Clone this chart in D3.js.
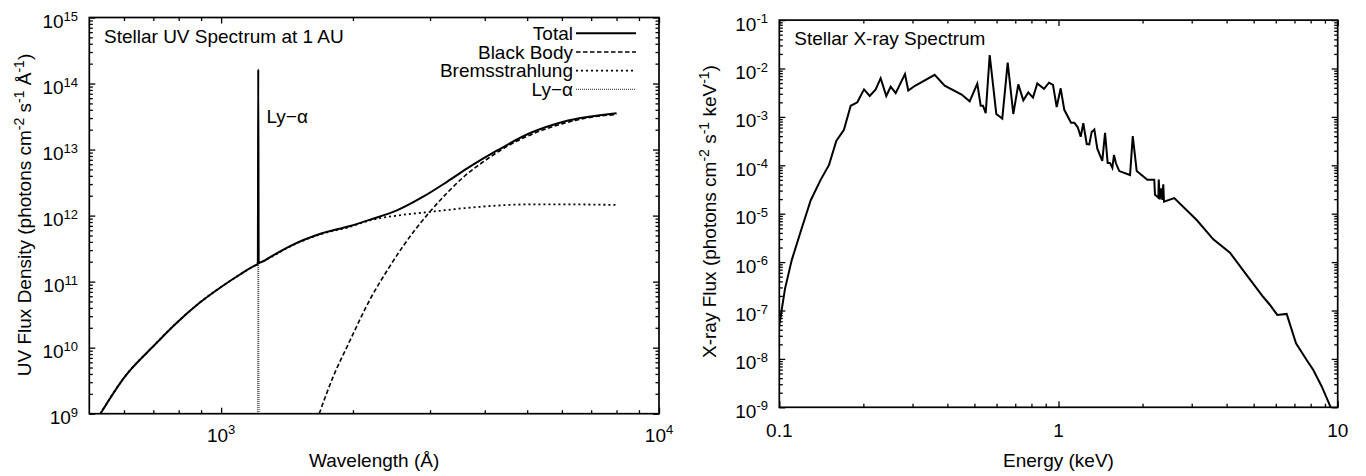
<!DOCTYPE html>
<html><head><meta charset="utf-8">
<script src="https://cdn.jsdelivr.net/npm/d3@7"></script>
<style>
body{margin:0;background:#fff}
text{font-family:"Liberation Sans",Arial,Helvetica,sans-serif;fill:#000}
</style>
</head><body>
<svg id="c" width="1366" height="476"></svg>
<script>
// ---------- UV panel data ----------
const uvTotalWavelength = [530, 600, 700, 790, 890, 1000, 1100, 1200, 1209, 1213, 1215.7, 1218.5, 1223, 1300, 1430, 1700, 1960, 2190, 2520, 2900, 3280, 3700, 4260, 5080, 6050, 8000];
const uvTotalFlux = [1.0e9, 3.5e9, 1.05e10, 2.35e10, 4.7e10, 8.3e10, 1.26e11, 1.78e11, 1.82e11, 2.0e11, 1.64e14, 1.95e11, 1.95e11, 2.4e11, 3.4e11, 5.4e11, 6.9e11, 8.7e11, 1.2e12, 1.95e12, 3.25e12, 5.5e12, 9.6e12, 1.78e13, 2.64e13, 3.55e13];
const uvBlackBodyWavelength = [1675, 1800, 1960, 2200, 2400, 2600, 2800, 3000, 3300, 3600, 4000, 4500, 5000, 6000, 7000, 8000];
const uvBlackBodyFlux = [1.0e9, 3.55e9, 1.2e10, 5.75e10, 1.51e11, 3.4e11, 6.6e11, 1.15e12, 2.29e12, 3.98e12, 6.76e12, 1.12e13, 1.59e13, 2.45e13, 3.09e13, 3.39e13];
const uvBremsWavelength = [530, 600, 700, 790, 890, 1000, 1100, 1200, 1300, 1430, 1700, 1960, 2190, 2520, 3000, 3900, 5080, 6050, 8000];
const uvBremsFlux = [1.0e9, 3.5e9, 1.05e10, 2.35e10, 4.7e10, 8.3e10, 1.26e11, 1.78e11, 2.35e11, 3.35e11, 5.3e11, 6.7e11, 8.5e11, 1.0e12, 1.14e12, 1.36e12, 1.48e12, 1.48e12, 1.45e12];
const uvLyaWavelength = [1209, 1213, 1215.7, 1218.5, 1223];
const uvLyaFlux = [1e8, 1e10, 1.64e14, 1e10, 1e8];
const uvXTicks = [1e3, 1e4];
const uvYTicks = [1e9, 1e10, 1e11, 1e12, 1e13, 1e14, 1e15];
const uvLegend = ["Total", "Black Body", "Bremsstrahlung", "Ly\u2212\u03b1"];

// ---------- X-ray panel data ----------
const xrayEnergy = [0.1, 0.1048, 0.1108, 0.1193, 0.1296, 0.1406, 0.1507, 0.16, 0.1704, 0.1802, 0.1903, 0.2011, 0.2108, 0.2214, 0.2307, 0.2416, 0.2506, 0.2611, 0.2819, 0.2897, 0.3062, 0.3602, 0.3911, 0.4498, 0.4807, 0.5119, 0.5264, 0.5365, 0.5487, 0.567, 0.5987, 0.629, 0.6577, 0.6888, 0.7178, 0.7482, 0.7793, 0.8101, 0.8396, 0.8871, 0.9246, 0.9556, 0.9853, 1.018, 1.049, 1.109, 1.139, 1.172, 1.201, 1.227, 1.262, 1.289, 1.315, 1.344, 1.377, 1.435, 1.468, 1.5, 1.529, 1.559, 1.58, 1.606, 1.651, 1.804, 1.845, 1.906, 2.08, 2.203, 2.216, 2.278, 2.286, 2.304, 2.334, 2.354, 2.373, 2.387, 2.598, 3.126, 3.585, 4.114, 4.722, 5.414, 5.722, 6.075, 6.565, 7.09, 7.743, 8.178, 8.765, 9.44];
const xrayFlux = [5.0e-8, 2.8e-7, 1.1e-6, 4.3e-6, 1.9e-5, 5.0e-5, 1.02e-4, 3.2e-4, 5.4e-4, 1.7e-3, 2.0e-3, 3.7e-3, 2.7e-3, 3.7e-3, 6.3e-3, 2.7e-3, 4.2e-3, 3.1e-3, 7.7e-3, 3.5e-3, 4.4e-3, 7.4e-3, 4.4e-3, 2.9e-3, 2.1e-3, 4.9e-3, 1.7e-3, 1.7e-3, 1.2e-3, 1.9e-2, 1.15e-3, 9.2e-4, 1.32e-2, 1.15e-3, 4.7e-3, 2.2e-3, 3.2e-3, 2.5e-3, 4.9e-3, 3.8e-3, 5.1e-3, 4.6e-3, 1.6e-3, 3.9e-3, 1.4e-3, 7.6e-4, 7.6e-4, 6.1e-4, 3.9e-4, 7.4e-4, 2.75e-4, 2.7e-4, 4.9e-4, 5.5e-4, 2.2e-4, 1.24e-4, 4.7e-4, 1.12e-4, 1.12e-4, 8.9e-5, 1.63e-4, 1.1e-4, 7.6e-5, 6.3e-5, 4.0e-4, 7.6e-5, 5.0e-5, 5.0e-5, 2.45e-5, 2.14e-5, 5.1e-5, 1.98e-5, 3.35e-5, 1.92e-5, 4.05e-5, 1.77e-5, 2.1e-5, 7.4e-6, 2.95e-6, 1.56e-6, 5.4e-7, 1.9e-7, 1.3e-7, 8.1e-8, 8.5e-8, 2.1e-8, 9.5e-9, 5.9e-9, 2.7e-9, 1.0e-9];
const xrayXTicks = [0.1, 1, 10];
const xrayXTickLabels = ["0.1", "1", "10"];
const xrayYTicks = [1e-9, 1e-8, 1e-7, 1e-6, 1e-5, 1e-4, 1e-3, 1e-2, 1e-1];

const svg = d3.select("#c");
const MAIN = 19, SUP = 14, TICKSUP = 13;

function minorTicks(lo, hi) {
  const out = [];
  for (let e = Math.floor(Math.log10(lo)); e < Math.ceil(Math.log10(hi)); e++) {
    for (let m = 2; m <= 9; m++) {
      const v = m * Math.pow(10, e);
      if (v > lo * 1.0001 && v < hi * 0.9999) out.push(v);
    }
  }
  return out;
}

function powLabel(sel, exp) {
  sel.append("tspan").text("10");
  sel.append("tspan").attr("dy", -7.5).attr("font-size", TICKSUP).text(exp);
}

function drawFrame(g, x, y, majorX, majorY) {
  const [x0, x1] = x.range(), [y0, y1] = y.range();
  const W = x1 - x0, H = y0 - y1;
  const mk = (axis, tr) => g.append("g").attr("transform", tr).call(axis)
    .call(s => { s.select(".domain").remove(); s.selectAll("text").remove(); s.selectAll("line").attr("stroke", "#000").attr("stroke-width", 1.3); });
  const mx = minorTicks(x.domain()[0], x.domain()[1]);
  const my = minorTicks(y.domain()[0], y.domain()[1]);
  mk(d3.axisBottom(x).tickValues(majorX).tickSize(-6), `translate(0,${y0})`);
  mk(d3.axisBottom(x).tickValues(mx).tickSize(-3.5), `translate(0,${y0})`);
  mk(d3.axisTop(x).tickValues(majorX).tickSize(-6), `translate(0,${y1})`);
  mk(d3.axisTop(x).tickValues(mx).tickSize(-3.5), `translate(0,${y1})`);
  mk(d3.axisLeft(y).tickValues(majorY).tickSize(-6), `translate(${x0},0)`);
  mk(d3.axisLeft(y).tickValues(my).tickSize(-3.5), `translate(${x0},0)`);
  mk(d3.axisRight(y).tickValues(majorY).tickSize(-6), `translate(${x1},0)`);
  mk(d3.axisRight(y).tickValues(my).tickSize(-3.5), `translate(${x1},0)`);
  g.append("rect").attr("x", x0).attr("y", y1).attr("width", W).attr("height", H)
    .attr("fill", "none").attr("stroke", "#000").attr("stroke-width", 1.7);
}

function lineOf(g, x, y, xs, ys, clipId, style, curve) {
  const pts = xs.map((v, i) => [v, ys[i]]);
  const l = d3.line().x(d => x(d[0])).y(d => y(d[1])).curve(curve || d3.curveLinear);
  g.append("path").datum(pts).attr("d", l).attr("fill", "none")
    .attr("clip-path", `url(#${clipId})`)
    .attr("stroke", style.color || "#000").attr("stroke-width", style.width || 2)
    .attr("stroke-dasharray", style.dash || null).attr("stroke-linejoin", "miter");
}

function clip(id, x, y) {
  const [x0, x1] = x.range(), [y0, y1] = y.range();
  svg.append("clipPath").attr("id", id).append("rect")
    .attr("x", x0).attr("y", y1).attr("width", x1 - x0).attr("height", y0 - y1);
}

// ================= UV panel =================
{
  const x = d3.scaleLog().domain([500, 10000]).range([89.3, 659]);
  const y = d3.scaleLog().domain([1e9, 1e15]).range([413.7, 17.5]);
  const g = svg.append("g");
  clip("clipUV", x, y);

  const styles = [
    {dash: null, width: 2},
    {dash: "4.5,2.5", width: 1.6},
    {dash: "2,3", width: 1.8},
    {dash: "1,1", color: "#555", width: 1.3}
  ];
  lineOf(g, x, y, uvLyaWavelength, uvLyaFlux, "clipUV", styles[3]);
  lineOf(g, x, y, uvBremsWavelength, uvBremsFlux, "clipUV", styles[2], d3.curveMonotoneX);
  lineOf(g, x, y, uvBlackBodyWavelength, uvBlackBodyFlux, "clipUV", styles[1], d3.curveMonotoneX);
  lineOf(g, x, y, uvTotalWavelength, uvTotalFlux, "clipUV", styles[0], d3.curveMonotoneX);

  drawFrame(g, x, y, uvXTicks, uvYTicks);

  uvYTicks.forEach(v => {
    const t = g.append("text").attr("x", 78).attr("y", y(v) + 10.5).attr("text-anchor", "end").attr("font-size", MAIN);
    powLabel(t, Math.round(Math.log10(v)));
  });
  uvXTicks.forEach(v => {
    const t = g.append("text").attr("x", x(v)).attr("y", 441.7).attr("text-anchor", "middle").attr("font-size", MAIN);
    powLabel(t, Math.round(Math.log10(v)));
  });

  uvLegend.forEach((name, i) => {
    const ly = 33.3 + i * 18.7;
    g.append("text").attr("x", 573).attr("y", ly + 6.5).attr("text-anchor", "end").attr("font-size", MAIN).text(name);
    g.append("line").attr("x1", 576).attr("x2", 636).attr("y1", ly).attr("y2", ly)
      .attr("stroke", styles[i].color || "#000").attr("stroke-width", styles[i].width || 2)
      .attr("stroke-dasharray", styles[i].dash);
  });

  g.append("text").attr("x", 104).attr("y", 43.3).attr("font-size", MAIN).text("Stellar UV Spectrum at 1 AU");
  g.append("text").attr("x", 266.5).attr("y", 123.3).attr("font-size", MAIN).text("Ly\u2212\u03b1");

  g.append("text").attr("x", (89.3 + 659) / 2).attr("y", 466.7).attr("text-anchor", "middle").attr("font-size", MAIN).text("Wavelength (\u00c5)");

  const yt = g.append("text").attr("transform", "translate(31,215) rotate(-90)").attr("text-anchor", "middle").attr("font-size", MAIN);
  yt.append("tspan").text("UV Flux Density (photons cm");
  yt.append("tspan").attr("dy", -7.5).attr("font-size", SUP).text("-2");
  yt.append("tspan").attr("dy", 7.5).text(" s");
  yt.append("tspan").attr("dy", -7.5).attr("font-size", SUP).text("-1");
  yt.append("tspan").attr("dy", 7.5).text(" \u00c5");
  yt.append("tspan").attr("dy", -7.5).attr("font-size", SUP).text("-1");
  yt.append("tspan").attr("dy", 7.5).text(")");
}

// ================= X-ray panel =================
{
  const x = d3.scaleLog().domain([0.1, 10]).range([779.3, 1337.7]);
  const y = d3.scaleLog().domain([1e-9, 1e-1]).range([407.3, 20.1]);
  const g = svg.append("g");
  clip("clipX", x, y);

  lineOf(g, x, y, xrayEnergy, xrayFlux, "clipX", {dash: null, width: 2});
  drawFrame(g, x, y, xrayXTicks, xrayYTicks);

  xrayYTicks.forEach(v => {
    const t = g.append("text").attr("x", 768).attr("y", y(v) + 10.5).attr("text-anchor", "end").attr("font-size", MAIN);
    powLabel(t, Math.round(Math.log10(v)));
  });
  xrayXTicks.forEach((v, i) => {
    g.append("text").attr("x", x(v)).attr("y", 436.7).attr("text-anchor", "middle").attr("font-size", MAIN).text(xrayXTickLabels[i]);
  });

  g.append("text").attr("x", 794.3).attr("y", 45).attr("font-size", MAIN).text("Stellar X-ray Spectrum");
  g.append("text").attr("x", (779.3 + 1337.7) / 2).attr("y", 466.7).attr("text-anchor", "middle").attr("font-size", MAIN).text("Energy (keV)");

  const yt = g.append("text").attr("transform", "translate(716,211.5) rotate(-90)").attr("text-anchor", "middle").attr("font-size", MAIN);
  yt.append("tspan").text("X-ray Flux (photons cm");
  yt.append("tspan").attr("dy", -7.5).attr("font-size", SUP).text("-2");
  yt.append("tspan").attr("dy", 7.5).text(" s");
  yt.append("tspan").attr("dy", -7.5).attr("font-size", SUP).text("-1");
  yt.append("tspan").attr("dy", 7.5).text(" keV");
  yt.append("tspan").attr("dy", -7.5).attr("font-size", SUP).text("-1");
  yt.append("tspan").attr("dy", 7.5).text(")");
}
</script>
</body></html>
